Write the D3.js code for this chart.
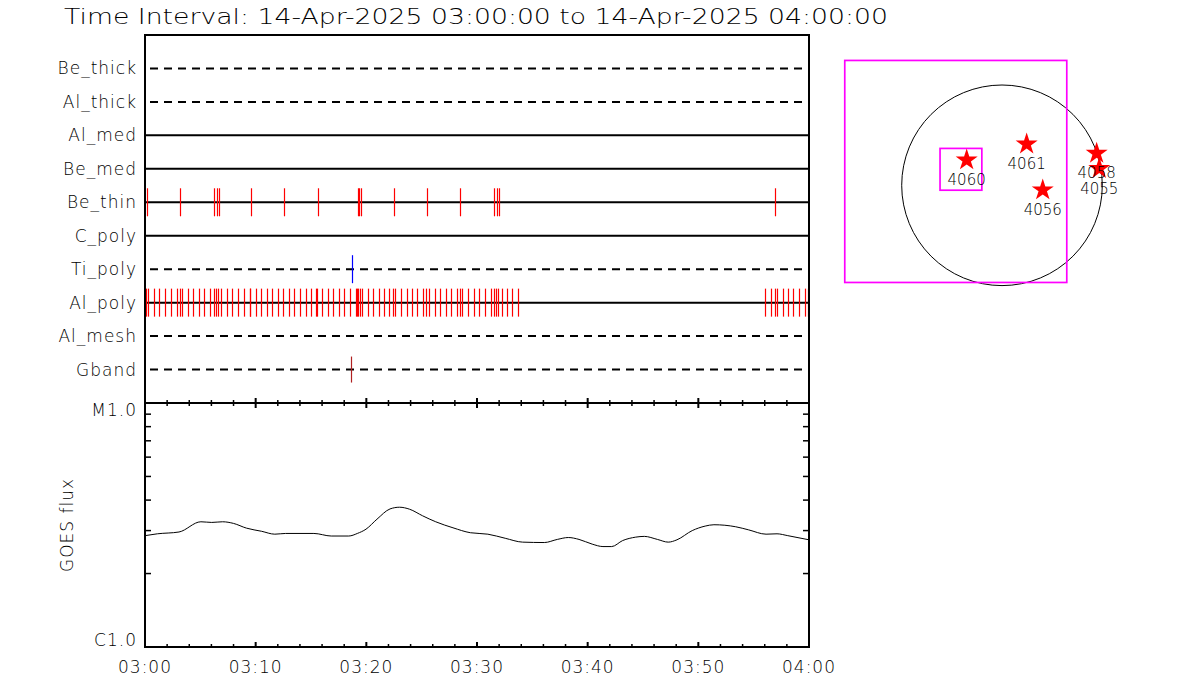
<!DOCTYPE html>
<html>
<head>
<meta charset="utf-8">
<script src="https://cdn.jsdelivr.net/npm/d3@7"></script>
<style>
  body { margin: 0; background: #fff; }
  svg { display: block; }
  text { font-family: "DejaVu Sans", sans-serif; font-weight: 200; fill: #000; }
</style>
</head>
<body>
<svg id="chart" width="1200" height="700"></svg>
<script>
// ---------------- DATA ----------------
const titleText = "Time Interval: 14-Apr-2025 03:00:00 to 14-Apr-2025 04:00:00";
const startTime = "2025-04-14T03:00:00Z";
const endTime = "2025-04-14T04:00:00Z";

const filters = ["Be_thick", "Al_thick", "Al_med", "Be_med", "Be_thin", "C_poly", "Ti_poly", "Al_poly", "Al_mesh", "Gband"];
const dashedFilters = ["Be_thick", "Al_thick", "Ti_poly", "Al_mesh", "Gband"];

// event times, minutes after 03:00
const beThinTimes = [0.21, 3.19, 6.26, 6.53, 6.71, 9.6, 12.59, 15.66, 19.27, 19.36, 19.52, 22.53, 25.51, 28.49, 31.56, 31.81, 31.99, 56.95];
const alPolyTimes = [0.09, 0.27, 0.81, 1.29, 1.83, 2.35, 2.86, 3.14, 3.37, 3.91, 4.36, 4.85, 5.35, 5.85, 6.21, 6.44, 6.62, 6.89,
  7.44, 7.89, 8.40, 8.92, 9.46, 9.52, 10.03, 10.51, 11.00, 11.50, 11.99, 12.47, 13.01, 13.49, 14.01, 14.52, 15.03, 15.48, 15.54,
  16.02, 16.51, 17.01, 17.50, 17.98, 18.55, 19.09, 19.16, 19.22, 19.45, 19.61, 20.12, 20.63, 21.12, 21.62, 22.08, 22.44, 22.62,
  23.16, 23.65, 24.13, 24.61, 25.15, 25.36, 25.66, 26.20, 26.66, 27.17, 27.68, 28.17, 28.49, 28.64, 29.21, 29.70, 30.21, 30.72,
  31.24, 31.54, 31.72, 31.90, 32.23, 32.71, 33.16, 33.73,
  56.05, 56.59, 56.95, 57.11, 57.68, 58.13, 58.58, 59.12, 59.67, 59.88];
const tiPolyTimes = [18.73];
const gbandTimes = [18.64];

// GOES flux (W/m^2)
const goesMinutes = [0, 1.12, 3.07, 5.05, 6.03, 7.01, 8.0, 9.17, 10.54, 11.73, 12.71, 15.26, 16.83, 18.41, 19.19, 19.97, 20.96,
  22.14, 23.0, 23.91, 25.08, 26.27, 27.83, 29.40, 30.98, 32.55, 34.12, 36.08, 37.26, 38.25, 39.22, 40.41, 41.38, 42.17, 43.16,
  44.34, 45.12, 46.30, 47.28, 48.07, 49.45, 50.62, 51.41, 53.38, 54.55, 56.12, 57.11, 58.08, 60];
const goesFlux = [2.86e-6, 2.91e-6, 2.96e-6, 3.26e-6, 3.24e-6, 3.26e-6, 3.21e-6, 3.07e-6, 2.98e-6, 2.90e-6, 2.92e-6, 2.92e-6,
  2.85e-6, 2.85e-6, 2.92e-6, 3.04e-6, 3.34e-6, 3.68e-6, 3.74e-6, 3.67e-6, 3.45e-6, 3.26e-6, 3.08e-6, 2.94e-6, 2.90e-6, 2.79e-6,
  2.69e-6, 2.68e-6, 2.76e-6, 2.81e-6, 2.76e-6, 2.64e-6, 2.58e-6, 2.58e-6, 2.73e-6, 2.82e-6, 2.84e-6, 2.76e-6, 2.69e-6, 2.75e-6,
  3.00e-6, 3.13e-6, 3.17e-6, 3.11e-6, 3.02e-6, 2.90e-6, 2.91e-6, 2.86e-6, 2.75e-6];
const fluxLabels = ["C1.0", "M1.0"];
const fluxLabelValues = [1e-6, 1e-5];
const fluxMinorTicks = [2e-6, 3e-6, 4e-6, 5e-6, 6e-6, 7e-6, 8e-6, 9e-6];
const yTitle = "GOES flux";

// solar map (arcsec)
const sunRadius = 960;
const fovOuterX = [-1505, 620];
const fovOuterY = [-930, 1195];
const fovInnerX = [-593, -193];
const fovInnerY = [-47, 353];
const arNumbers = ["4060", "4061", "4056", "4058", "4055"];
const arX = [-338, 236, 390, 906, 931];
const arY = [242, 395, -45, 306, 160];

// ---------------- DRAW ----------------
const svg = d3.select("#chart");
const L = 145, R = 809, T1 = 35, B1 = 403, B2 = 647;
const t0 = new Date(startTime), t1 = new Date(endTime);
const toDate = m => new Date(t0.getTime() + m * 60000);

const x = d3.scaleUtc().domain([t0, t1]).range([L, R]);
const yRow = d3.scalePoint().domain(filters).range([T1, B1]).padding(1);
const yFlux = d3.scaleLog().domain([1e-6, 1e-5]).range([B2, B1]);

// title
svg.append("text").attr("x", 64).attr("y", 24).attr("font-size", 21)
  .attr("textLength", 824).attr("lengthAdjust", "spacingAndGlyphs").text(titleText);

// row lines
const rows = svg.append("g");
rows.selectAll("line").data(filters).join("line")
  .attr("x1", L).attr("x2", R)
  .attr("y1", d => yRow(d)).attr("y2", d => yRow(d))
  .attr("stroke", "#000").attr("stroke-width", 2)
  .attr("stroke-dasharray", d => dashedFilters.includes(d) ? "8,6" : null)
  .attr("stroke-dashoffset", d => dashedFilters.includes(d) ? 9 : null);

rows.selectAll("text").data(filters).join("text")
  .attr("x", 137).attr("y", d => yRow(d) + 6)
  .attr("text-anchor", "end").attr("font-size", 17).attr("letter-spacing", 1)
  .text(d => d);

// event ticks
const events = [
  { row: "Be_thin", times: beThinTimes, color: "#ff0000", h: 14 },
  { row: "Al_poly", times: alPolyTimes, color: "#ff0000", h: 14 },
  { row: "Ti_poly", times: tiPolyTimes, color: "#0000ff", h: 14 },
  { row: "Gband", times: gbandTimes, color: "#b02020", h: 13 }
];
events.forEach(ev => {
  svg.append("g").selectAll("line").data(ev.times).join("line")
    .attr("x1", d => Math.round(x(toDate(d))) + 0.5).attr("x2", d => Math.round(x(toDate(d))) + 0.5)
    .attr("y1", yRow(ev.row) - ev.h).attr("y2", yRow(ev.row) + ev.h)
    .attr("stroke", ev.color).attr("stroke-width", 1.2);
});

// GOES curve
const goes = goesMinutes.map((m, i) => ({ t: toDate(m), f: goesFlux[i] }));
svg.append("path").datum(goes)
  .attr("fill", "none").attr("stroke", "#000").attr("stroke-width", 1)
  .attr("d", d3.line().x(d => x(d.t)).y(d => yFlux(d.f)).curve(d3.curveMonotoneX));

// boxes
svg.append("rect").attr("x", L).attr("y", T1).attr("width", R - L).attr("height", B2 - T1)
  .attr("fill", "none").attr("stroke", "#000").attr("stroke-width", 2);
svg.append("line").attr("x1", L).attr("x2", R).attr("y1", B1).attr("y2", B1)
  .attr("stroke", "#000").attr("stroke-width", 2);

// time ticks
const minorT = x.ticks(d3.utcMinute.every(2));
const majorT = x.ticks(d3.utcMinute.every(10));
const isMajor = d => majorT.some(m => +m === +d);
const tk = svg.append("g").attr("stroke", "#000");
tk.selectAll(".mid").data(minorT).join("line")
  .attr("x1", d => x(d)).attr("x2", d => x(d))
  .attr("y1", d => B1 - (isMajor(d) ? 5 : 3))
  .attr("y2", d => B1 + (isMajor(d) ? 5 : 3))
  .attr("stroke-width", d => isMajor(d) ? 2 : 1.5);
tk.selectAll(".bot").data(minorT).join("line")
  .attr("x1", d => x(d)).attr("x2", d => x(d))
  .attr("y1", B2).attr("y2", d => B2 - (isMajor(d) ? 5 : 3))
  .attr("stroke-width", d => isMajor(d) ? 2 : 1.5);

svg.append("g").selectAll("text").data(majorT).join("text")
  .attr("x", d => x(d)).attr("y", 673).attr("text-anchor", "middle")
  .attr("font-size", 17).attr("letter-spacing", 1)
  .text(d3.utcFormat("%H:%M"));

// flux ticks
const ft = svg.append("g").attr("stroke", "#000").attr("stroke-width", 1.5);
ft.selectAll(".l").data(fluxMinorTicks).join("line")
  .attr("x1", L).attr("x2", L + 6).attr("y1", d => yFlux(d)).attr("y2", d => yFlux(d));
ft.selectAll(".r").data(fluxMinorTicks).join("line")
  .attr("x1", R).attr("x2", R - 6).attr("y1", d => yFlux(d)).attr("y2", d => yFlux(d));

svg.append("g").selectAll("text").data(fluxLabels).join("text")
  .attr("x", 137).attr("y", (d, i) => yFlux(fluxLabelValues[i]) + (i === 1 ? 13 : -1))
  .attr("text-anchor", "end").attr("font-size", 17).attr("letter-spacing", 1)
  .attr("fill", "#333").text(d => d);

svg.append("text").attr("transform", "translate(73,525) rotate(-90)")
  .attr("text-anchor", "middle").attr("font-size", 17).attr("letter-spacing", 1)
  .attr("fill", "#333").text(yTitle);

// solar map
const k = 100.3 / sunRadius;
const sx = d3.scaleLinear().domain([0, 1000]).range([1002, 1002 + 1000 * k]);
const sy = d3.scaleLinear().domain([0, 1000]).range([185.3, 185.3 - 1000 * k]);

svg.append("circle").attr("cx", sx(0)).attr("cy", sy(0)).attr("r", sx(sunRadius) - sx(0))
  .attr("fill", "none").attr("stroke", "#000").attr("stroke-width", 1);

[[fovOuterX, fovOuterY], [fovInnerX, fovInnerY]].forEach(([bx, by]) => {
  svg.append("rect").attr("x", sx(bx[0])).attr("y", sy(by[1]))
    .attr("width", sx(bx[1]) - sx(bx[0])).attr("height", sy(by[0]) - sy(by[1]))
    .attr("fill", "none").attr("stroke", "#ff00ff").attr("stroke-width", 1.7);
});

const star = d3.symbol().type(d3.symbolStar).size(150);
const ar = svg.append("g");
ar.selectAll("path").data(arNumbers).join("path")
  .attr("transform", (d, i) => `translate(${sx(arX[i])},${sy(arY[i])})`)
  .attr("d", star).attr("fill", "#ff0000");
ar.selectAll("text").data(arNumbers).join("text")
  .attr("x", (d, i) => sx(arX[i])).attr("y", (d, i) => sy(arY[i]) + 25)
  .attr("text-anchor", "middle").attr("font-size", 15).text(d => d);
</script>
</body>
</html>
